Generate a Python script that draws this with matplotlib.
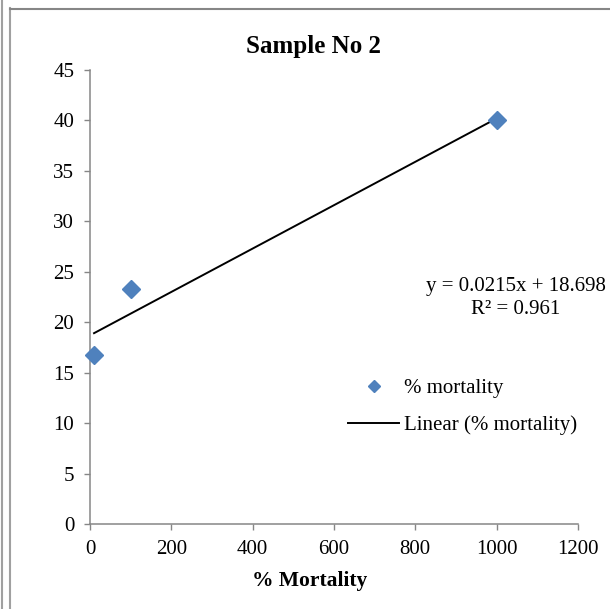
import matplotlib
matplotlib.use("Agg")
import matplotlib.pyplot as plt
from matplotlib.lines import Line2D
import numpy as np

# data
dose = [10, 100, 1000]
mortality = [16.7, 23.3, 40.0]
slope, intercept = 0.0215, 18.698
eq_text = "y = 0.0215x + 18.698\nR² = 0.961"
xticks = [0, 200, 400, 600, 800, 1000, 1200]
yticks = [0, 5, 10, 15, 20, 25, 30, 35, 40, 45]

plt.rcParams["font.family"] = ["Liberation Serif", "DejaVu Serif"]
grey = "#868686"

W, H = 610, 609
fig = plt.figure(figsize=(W / 100, H / 100), dpi=100)
ax = fig.add_axes([0.1475, 0.1396, 0.8, 0.7455])

ax.plot(dose, mortality, "D", color="#4F81BD", ms=9.5, mec="#4F81BD",
        label="% mortality", zorder=3, clip_on=False)
xt = np.array([dose[0], dose[-1]])
ax.plot(xt, slope * xt + intercept, color="black", lw=1.4,
        label="Linear (% mortality)", zorder=2)

ax.set_xlim(0, 1200)
ax.set_ylim(0, 45)
ax.set_xticks(xticks)
ax.set_yticks(yticks)
ax.tick_params(labelsize=15, length=4.3, width=1.0, color=grey, pad=7)
for s in ["top", "right"]:
    ax.spines[s].set_visible(False)
for s in ["left", "bottom"]:
    ax.spines[s].set_color(grey)
    ax.spines[s].set_linewidth(1.1)

# title and x label sit centred on the whole chart area, not the axes
fig.text(314 / W, 1 - 46 / H, "Sample No 2", fontsize=18, fontweight="bold",
         ha="center", va="center")
fig.text(310 / W, 1 - 581 / H, "% Mortality", fontsize=15.5, fontweight="bold",
         ha="center", va="center")

fig.text(516 / W, 1 - 298 / H, eq_text, fontsize=15, ha="center",
         va="center", multialignment="center", linespacing=1.3)

leg = ax.legend(loc="upper left", bbox_to_anchor=(338 / W, 1 - 368 / H),
                bbox_transform=fig.transFigure, frameon=False, fontsize=15,
                borderpad=0, handlelength=2.45, handletextpad=0.2,
                labelspacing=0.85, markerscale=0.65)

# outer frame lines
fig.add_artist(Line2D([1.5 / W, 1.5 / W], [0, 1], color="#a0a0a0", lw=1.5))
fig.add_artist(Line2D([10 / W, 10 / W], [0, 1 - 8 / H], color="#a0a0a0", lw=1.5))
fig.add_artist(Line2D([10 / W, 1], [1 - 8.5 / H, 1 - 8.5 / H], color=grey, lw=1.5))

fig.savefig("out.png", dpi=100)
